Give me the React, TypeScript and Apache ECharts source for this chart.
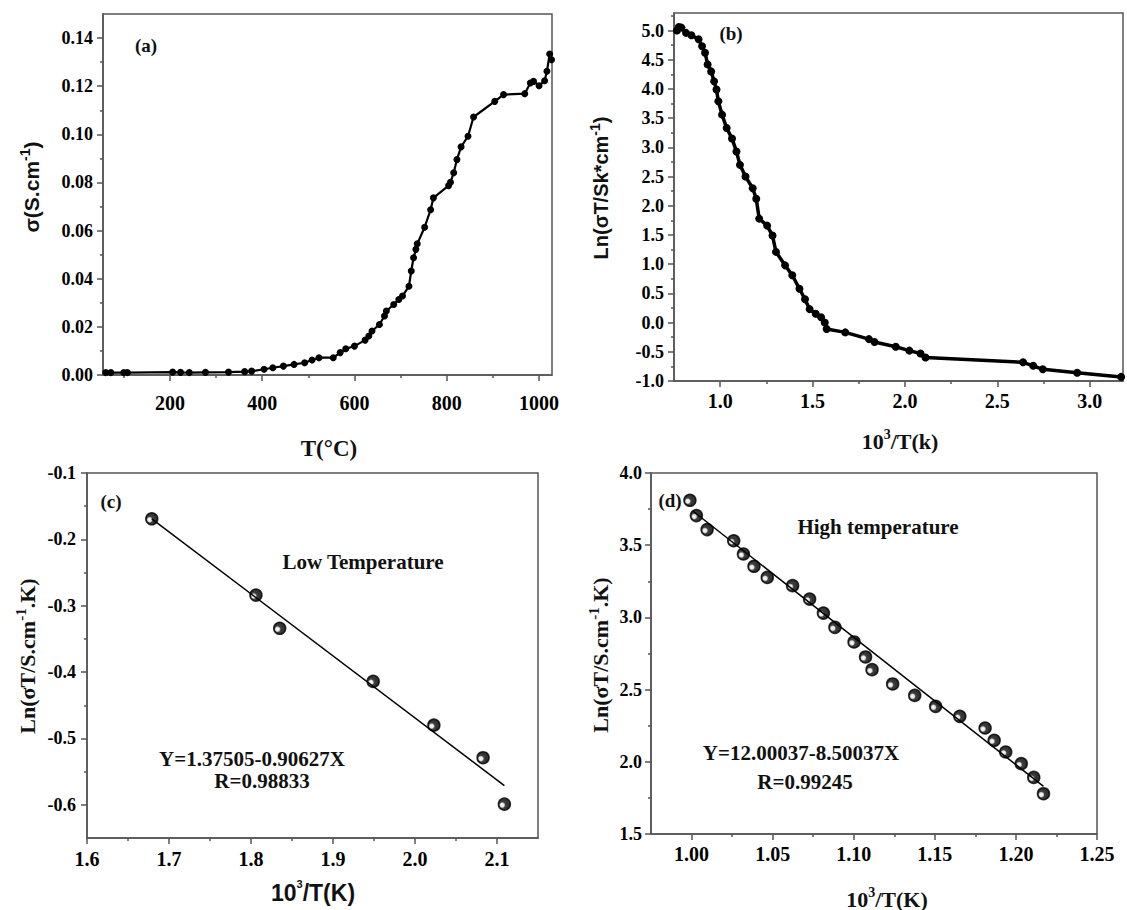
import React, { useEffect, useRef } from "react";
import * as echarts from "echarts";

// ---------- Panel (a): sigma vs T(°C) ----------
const aTempC = [61, 72, 100, 108, 206, 223, 242, 277, 327, 362, 377, 404, 423, 446, 469, 492, 508, 523, 554, 569, 581, 600, 623, 631, 638, 654, 665, 669, 685, 696, 704, 718, 723, 728, 733, 736, 752, 765, 771, 804, 808, 815, 822, 831, 846, 858, 904, 923, 969, 981, 988, 1000, 1012, 1017, 1023, 1027];
const aSigma = [0.001, 0.001, 0.001, 0.001, 0.0012, 0.0011, 0.001, 0.0011, 0.0012, 0.0014, 0.0016, 0.0024, 0.003, 0.0037, 0.0044, 0.0051, 0.0062, 0.0072, 0.0072, 0.0093, 0.0109, 0.012, 0.0145, 0.0162, 0.0183, 0.021, 0.0245, 0.0266, 0.0293, 0.0314, 0.0328, 0.0369, 0.0432, 0.0487, 0.0522, 0.0545, 0.0614, 0.0687, 0.0736, 0.0787, 0.0801, 0.084, 0.0895, 0.0948, 0.0992, 0.1072, 0.1137, 0.1165, 0.1169, 0.1213, 0.122, 0.1202, 0.1223, 0.1262, 0.1334, 0.131];
const aXMajor = [200, 400, 600, 800, 1000];
const aXMinor = [100, 300, 500, 700, 900];
const aYMajor = [0, 0.02, 0.04, 0.06, 0.08, 0.1, 0.12, 0.14];
const aYMinor = [0.01, 0.03, 0.05, 0.07, 0.09, 0.11, 0.13];

// ---------- Panel (b): Ln(sigma T) vs 1000/T ----------
const bInvT = [0.766, 0.776, 0.79, 0.815, 0.844, 0.883, 0.902, 0.918, 0.932, 0.951, 0.967, 0.98, 0.99, 1.01, 1.035, 1.064, 1.088, 1.107, 1.137, 1.176, 1.195, 1.211, 1.254, 1.283, 1.302, 1.351, 1.39, 1.429, 1.459, 1.484, 1.517, 1.546, 1.566, 1.576, 1.677, 1.805, 1.835, 1.95, 2.024, 2.084, 2.111, 2.639, 2.694, 2.746, 2.932, 3.17];
const bLn = [5.0, 5.06, 5.05, 4.96, 4.92, 4.85, 4.73, 4.62, 4.42, 4.3, 4.13, 3.99, 3.79, 3.56, 3.33, 3.15, 2.93, 2.7, 2.5, 2.3, 2.12, 1.78, 1.66, 1.49, 1.21, 0.98, 0.81, 0.58, 0.4, 0.23, 0.15, 0.09, 0.0, -0.11, -0.168, -0.283, -0.332, -0.413, -0.48, -0.528, -0.598, -0.68, -0.74, -0.8, -0.86, -0.93];
const bXMajor = [1.0, 1.5, 2.0, 2.5, 3.0];
const bXMinor = [1.25, 1.75, 2.25, 2.75];
const bYMajor = [-1.0, -0.5, 0.0, 0.5, 1.0, 1.5, 2.0, 2.5, 3.0, 3.5, 4.0, 4.5, 5.0];
const bYMinor = [-0.75, -0.25, 0.25, 0.75, 1.25, 1.75, 2.25, 2.75, 3.25, 3.75, 4.25, 4.75, 5.25];

// ---------- Panel (c): low temperature fit ----------
const cInvT = [1.679, 1.806, 1.835, 1.949, 2.023, 2.083, 2.109];
const cLn = [-0.169, -0.284, -0.334, -0.414, -0.48, -0.529, -0.599];
const cFitX = [1.679, 2.109];
const cFitY = [-0.169, -0.571];
const cXMajor = [1.6, 1.7, 1.8, 1.9, 2.0, 2.1];
const cXMinor = [1.65, 1.75, 1.85, 1.95, 2.05];
const cYMajor = [-0.6, -0.5, -0.4, -0.3, -0.2, -0.1];
const cYMinor = [-0.55, -0.45, -0.35, -0.25, -0.15];

// ---------- Panel (d): high temperature fit ----------
const dInvT = [0.999, 1.003, 1.0096, 1.026, 1.032, 1.0385, 1.0467, 1.0623, 1.0728, 1.0813, 1.0884, 1.1002, 1.1073, 1.1113, 1.124, 1.1376, 1.1505, 1.1654, 1.181, 1.1866, 1.1937, 1.2033, 1.211, 1.217];
const dLn = [3.811, 3.705, 3.608, 3.531, 3.439, 3.354, 3.277, 3.22, 3.127, 3.03, 2.931, 2.83, 2.726, 2.638, 2.539, 2.46, 2.384, 2.315, 2.234, 2.149, 2.068, 1.987, 1.892, 1.779];
const dFitX = [1.001, 1.217];
const dFitY = [3.735, 1.83];
const dXMajor = [1.0, 1.05, 1.1, 1.15, 1.2, 1.25];
const dXMinor = [1.025, 1.075, 1.125, 1.175, 1.225];
const dYMajor = [1.5, 2.0, 2.5, 3.0, 3.5, 4.0];
const dYMinor = [1.75, 2.25, 2.75, 3.25, 3.75];

const SERIF = '"Liberation Serif", "Times New Roman", serif';
const SANS = '"Liberation Sans", Arial, sans-serif';
const AXIS_COLOR = "#555";
const TEXT_COLOR = "#111";

function axisPair(
  kind: "x" | "y",
  gridIndex: number,
  min: number,
  max: number,
  major: number[],
  minor: number[],
  decimals: number,
  fontSize: number,
  margin: number
) {
  const base: any = {
    type: "value",
    gridIndex,
    min,
    max,
    position: kind === "x" ? "bottom" : "left",
    splitLine: { show: false },
  };
  return [
    {
      ...base,
      axisLine: { show: true, onZero: false, lineStyle: { color: AXIS_COLOR, width: 1.5 } },
      axisTick: { show: true, inside: false, customValues: major, length: 6, lineStyle: { color: AXIS_COLOR, width: 1.5 } },
      axisLabel: {
        show: true,
        customValues: major,
        margin,
        formatter: (v: number) => v.toFixed(decimals),
        fontFamily: SERIF,
        fontWeight: "bold",
        fontSize,
        color: "#000",
      },
    },
    {
      ...base,
      axisLine: { show: false, onZero: false },
      axisTick: { show: true, inside: false, customValues: minor, length: 3, lineStyle: { color: AXIS_COLOR, width: 1.5 } },
      axisLabel: { show: false },
    },
  ];
}

function richFor(family: string, size: number, supSize: number) {
  return {
    m: { fontFamily: family, fontWeight: "bold", fontSize: size, lineHeight: size + 6, fill: TEXT_COLOR },
    s: { fontFamily: family, fontWeight: "bold", fontSize: supSize, lineHeight: supSize + 1, verticalAlign: "top", fill: TEXT_COLOR },
  };
}

function txt(text: string, x: number, y: number, family: string, size: number, rot = 0, rich?: any) {
  return {
    type: "text",
    x,
    y,
    rotation: rot,
    z: 100,
    style: {
      text,
      font: `bold ${size}px ${family}`,
      fill: TEXT_COLOR,
      textAlign: "center",
      textVerticalAlign: "middle",
      align: "center",
      verticalAlign: "middle",
      rich,
    },
  };
}

const sphere = () =>
  new echarts.graphic.RadialGradient(0.32, 0.58, 0.45, [
    { offset: 0, color: "#ffffff" },
    { offset: 0.35, color: "#dddddd" },
    { offset: 0.6, color: "#111" },
    { offset: 1, color: "#000" },
  ]);

export default function App() {
  const ref = useRef<HTMLDivElement>(null);

  useEffect(() => {
    if (!ref.current) return;
    const chart = echarts.init(ref.current, null, { renderer: "svg" });

    const xAxis = [
      ...axisPair("x", 0, 55, 1028, aXMajor, aXMinor, 0, 20, 18),
      ...axisPair("x", 1, 0.75, 3.18, bXMajor, bXMinor, 1, 20, 10),
      ...axisPair("x", 2, 1.6, 2.15, cXMajor, cXMinor, 1, 20, 11),
      ...axisPair("x", 3, 0.975, 1.25, dXMajor, dXMinor, 2, 20, 10),
    ];
    const yAxis = [
      ...axisPair("y", 0, 0, 0.15, aYMajor, aYMinor, 2, 18, 10),
      ...axisPair("y", 1, -1.0, 5.3, bYMajor, bYMinor, 1, 18, 10),
      ...axisPair("y", 2, -0.65, -0.1, cYMajor, cYMinor, 1, 18, 11),
      ...axisPair("y", 3, 1.5, 4.0, dYMajor, dYMinor, 1, 18, 9),
    ];

    const gridBase = { show: true, borderColor: AXIS_COLOR, borderWidth: 1.5, backgroundColor: "transparent", containLabel: false };
    const grid = [
      { ...gridBase, left: 103, top: 14, width: 449, height: 361 },
      { ...gridBase, left: 674, top: 13, width: 449, height: 368 },
      { ...gridBase, left: 87, top: 473, width: 451, height: 365 },
      { ...gridBase, left: 651, top: 473, width: 446, height: 361 },
    ];

    const pts = (xs: number[], ys: number[]) => xs.map((x, i) => [x, ys[i]]);

    const series: any[] = [
      {
        type: "line",
        xAxisIndex: 0,
        yAxisIndex: 0,
        data: pts(aTempC, aSigma),
        symbol: "circle",
        symbolSize: 7,
        lineStyle: { color: "#000", width: 2.2 },
        itemStyle: { color: "#000" },
      },
      {
        type: "line",
        xAxisIndex: 2,
        yAxisIndex: 2,
        data: pts(bInvT, bLn),
        symbol: "circle",
        symbolSize: 8,
        lineStyle: { color: "#000", width: 3.5 },
        itemStyle: { color: "#000" },
      },
      {
        type: "line",
        xAxisIndex: 4,
        yAxisIndex: 4,
        data: pts(cFitX, cFitY),
        symbol: "none",
        lineStyle: { color: "#000", width: 1.5 },
      },
      {
        type: "scatter",
        xAxisIndex: 4,
        yAxisIndex: 4,
        data: pts(cInvT, cLn),
        symbol: "circle",
        symbolSize: 12,
        itemStyle: { color: sphere(), borderColor: "#000", borderWidth: 1.5 },
      },
      {
        type: "line",
        xAxisIndex: 6,
        yAxisIndex: 6,
        data: pts(dFitX, dFitY),
        symbol: "none",
        lineStyle: { color: "#000", width: 1.5 },
      },
      {
        type: "scatter",
        xAxisIndex: 6,
        yAxisIndex: 6,
        data: pts(dInvT, dLn),
        symbol: "circle",
        symbolSize: 12,
        itemStyle: { color: sphere(), borderColor: "#000", borderWidth: 1.5 },
      },
    ];

    const R90 = Math.PI / 2;
    const graphic = [
      // axis titles
      txt("{m|σ(S.cm}{s|-1}{m|)}", 31, 187, SANS, 21, R90, richFor(SANS, 21, 14)),
      txt("T(°C)", 329, 448, SERIF, 23),
      txt("{m|Ln(σT/Sk*cm}{s|-1}{m|)}", 601, 188, SANS, 20, R90, richFor(SANS, 20, 14)),
      txt("{m|10}{s|3}{m|/T(k)}", 900, 441, SERIF, 22, 0, richFor(SERIF, 22, 14)),
      txt("{m|Ln(σT/S.cm}{s|-1}{m|.K)}", 27, 656, SERIF, 22, R90, richFor(SERIF, 22, 15)),
      txt("{m|10}{s|3}{m|/T(K)}", 313, 893, SANS, 23, 0, richFor(SANS, 23, 11)),
      txt("{m|Ln(σT/S.cm}{s|-1}{m|.K)}", 600, 655, SERIF, 22, R90, richFor(SERIF, 22, 15)),
      txt("{m|10}{s|3}{m|/T(K)}", 887, 899, SERIF, 22, 0, richFor(SERIF, 22, 14)),
      // panel labels and annotations
      txt("(a)", 146, 45, SERIF, 19),
      txt("(b)", 731, 33, SERIF, 19),
      txt("(c)", 111, 501, SERIF, 19),
      txt("(d)", 670, 500, SERIF, 19),
      txt("Low Temperature", 363, 562, SERIF, 21),
      txt("Y=1.37505-0.90627X", 252, 759, SERIF, 21),
      txt("R=0.98833", 262, 781, SERIF, 21),
      txt("High temperature", 878, 527, SERIF, 21),
      txt("Y=12.00037-8.50037X", 801, 753, SERIF, 21),
      txt("R=0.99245", 805, 782, SERIF, 21),
    ];

    chart.setOption({
      animation: false,
      backgroundColor: "#ffffff",
      grid,
      xAxis,
      yAxis,
      series,
      graphic,
    });

    return () => chart.dispose();
  }, []);

  return (
    <div
      ref={ref}
      style={{ position: "absolute", left: 0, top: 0, width: 1127, height: 910, background: "#fff" }}
    />
  );
}
